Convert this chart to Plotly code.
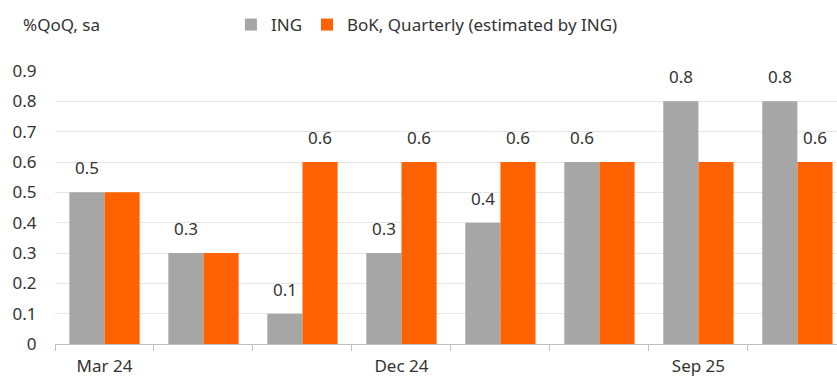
import plotly.graph_objects as go

categories = ["Mar 24", "Jun 24", "Sep 24", "Dec 24", "Mar 25", "Jun 25", "Sep 25", "Dec 25"]
ing = [0.5, 0.3, 0.1, 0.3, 0.4, 0.6, 0.8, 0.8]
bok = [0.5, 0.3, 0.6, 0.6, 0.6, 0.6, 0.6, 0.6]
ing_labels = ["0.5", "0.3", "0.1", "0.3", "0.4", "0.6", "0.8", "0.8"]
bok_labels = ["", "", "0.6", "0.6", "0.6", "", "", "0.6"]
shown_ticks = [0, 3, 6]
y_ticks = [0, 0.1, 0.2, 0.3, 0.4, 0.5, 0.6, 0.7, 0.8, 0.9]
y_tick_labels = ["0", "0.1", "0.2", "0.3", "0.4", "0.5", "0.6", "0.7", "0.8", "0.9"]

GRAY = "#a6a6a6"
ORANGE = "#ff6200"
TXT = "#333333"
FONT = "Noto Sans"
FS = 17

x = list(range(len(categories)))
BAR_W = 0.355

fig = go.Figure()
fig.add_trace(go.Bar(x=x, y=ing, name="ING", marker=dict(color=GRAY, line=dict(width=0)),
                     offset=-BAR_W, width=BAR_W))
fig.add_trace(go.Bar(x=x, y=bok, name="BoK, Quarterly (estimated by ING)",
                     marker=dict(color=ORANGE, line=dict(width=0)), offset=0, width=BAR_W))

annotations = []
for i, (v, t) in enumerate(zip(ing, ing_labels)):
    if t:
        annotations.append(dict(x=i - BAR_W / 2, y=v, text=t, showarrow=False, yanchor="bottom",
                                yshift=11, font=dict(family=FONT, size=FS, color=TXT)))
for i, (v, t) in enumerate(zip(bok, bok_labels)):
    if t:
        annotations.append(dict(x=i + BAR_W / 2, y=v, text=t, showarrow=False, yanchor="bottom",
                                yshift=11, font=dict(family=FONT, size=FS, color=TXT)))
annotations.append(dict(xref="paper", yref="paper", x=(21 - 55) / 782, y=(344 - 25) / 273,
                        xanchor="left", yanchor="middle", text="%QoQ, sa", showarrow=False,
                        font=dict(family=FONT, size=FS, color=TXT)))

fig.update_layout(
    width=837, height=378,
    margin=dict(l=55, r=0, t=71, b=34, autoexpand=False),
    paper_bgcolor="white", plot_bgcolor="white",
    font=dict(family=FONT, size=FS, color=TXT),
    barmode="overlay",
    showlegend=True,
    legend=dict(orientation="h", x=0.225, xanchor="left", y=(344 - 25) / 273, yanchor="middle",
                font=dict(family=FONT, size=FS, color=TXT), bgcolor="rgba(0,0,0,0)",
                itemwidth=30),
    annotations=annotations,
    xaxis=dict(range=[-0.5, 7.4], tickmode="array", tickvals=shown_ticks,
               ticktext=[categories[i] for i in shown_ticks], ticks="",
               ticklabelstandoff=7,
               showline=True, linecolor="#bfbfbf", linewidth=1, showgrid=False,
               zeroline=False, tickfont=dict(family=FONT, size=FS, color=TXT),
               automargin=False,
               minor=dict(tickvals=[i - 0.5 for i in range(len(categories) + 1)],
                          ticks="outside", ticklen=6, tickcolor="#bfbfbf", tickwidth=1,
                          showgrid=False)),
    yaxis=dict(range=[0, 0.9], tickmode="array", tickvals=y_ticks, ticktext=y_tick_labels,
               showgrid=True, automargin=False,
               gridcolor="#e6e6e6", gridwidth=1, zeroline=False, showline=False,
               ticks="outside", ticklen=14, tickcolor="rgba(0,0,0,0)",
               tickfont=dict(family=FONT, size=FS, color=TXT)),
)

fig.write_html("out.html")
